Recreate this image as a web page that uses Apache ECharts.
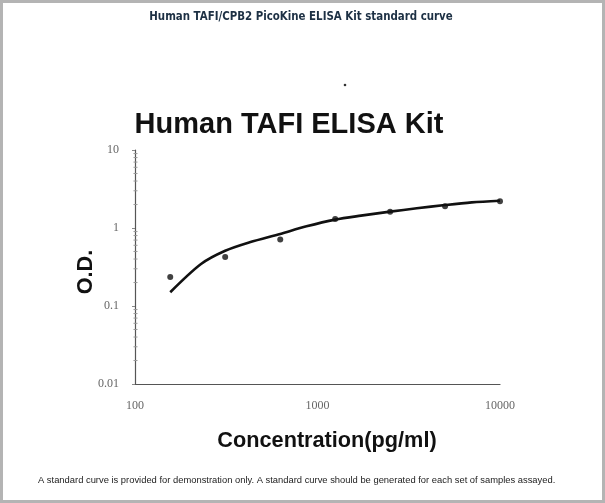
<!DOCTYPE html>
<html>
<head>
<meta charset="utf-8">
<script src="https://cdn.jsdelivr.net/npm/echarts@6/dist/echarts.min.js"></script>
<style>
html,body{margin:0;padding:0;background:#fff;}
#c{width:605px;height:503px;}
</style>
</head>
<body>
<div id="c"></div>
<script>
// Standard points (concentration pg/ml, O.D.)
const concentrations = [156, 312, 625, 1250, 2500, 5000, 10000];
const odValues = [0.235, 0.425, 0.71, 1.30, 1.62, 1.90, 2.20];
// Fitted curve
const curveConc = [156, 230, 312, 425, 625, 870, 1250, 1730, 2500, 3500, 5000, 7000, 10000];
const curveOD = [0.150, 0.345, 0.51, 0.655, 0.84, 1.05, 1.28, 1.44, 1.62, 1.79, 1.97, 2.13, 2.24];
// Y minor tick values (log decades)
const yMinorTicks = [0.02,0.03,0.04,0.05,0.06,0.07,0.08,0.09,0.2,0.3,0.4,0.5,0.6,0.7,0.8,0.9,2,3,4,5,6,7,8,9];
const xTickLabels = ['100', '1000', '10000'];
const yTickLabels = ['0.01', '0.1', '1', '10'];

const chart = echarts.init(document.getElementById('c'), null, {renderer: 'canvas'});

const pointData = concentrations.map((c, i) => [c, odValues[i]]);
const curveData = curveConc.map((c, i) => [c, curveOD[i]]);

const option = {
  animation: false,
  backgroundColor: '#ffffff',
  grid: {left: 135, width: 365, top: 150, height: 234, containLabel: false},
  xAxis: {
    type: 'log', logBase: 10, min: 100, max: 10000,
    name: 'Concentration(pg/ml)', nameLocation: 'middle', nameGap: 46, nameMoveOverlap: false,
    nameTextStyle: {fontFamily: 'Liberation Sans', fontWeight: 'bold', fontSize: 21.7, color: '#111', padding: [0,0,0,19]},
    axisLine: {show: true, lineStyle: {color: '#555', width: 1.2}},
    axisTick: {show: false},
    splitLine: {show: false},
    axisLabel: {
      margin: 16, fontFamily: 'Liberation Serif', fontSize: 12, color: '#666',
      formatter: v => { const s = String(Math.round(v)); return xTickLabels.includes(s) ? s : ''; }
    }
  },
  yAxis: {
    type: 'log', logBase: 10, min: 0.01, max: 10,
    name: 'O.D.', nameLocation: 'middle', nameGap: 38, nameRotate: 90, nameMoveOverlap: false,
    nameTextStyle: {fontFamily: 'Liberation Sans', fontWeight: 'bold', fontSize: 21.7, color: '#111', padding: [0,10,0,0]},
    axisLine: {show: true, lineStyle: {color: '#555', width: 1.2}},
    axisTick: {show: true, length: 3, inside: false, lineStyle: {color: '#888'}},
    splitLine: {show: false},
    axisLabel: {
      margin: 16, fontFamily: 'Liberation Serif', fontSize: 12, color: '#666',
      formatter: v => { const s = String(+v.toPrecision(3)); return yTickLabels.includes(s) ? s : ''; }
    }
  },
  series: [
    {
      type: 'custom',
      data: yMinorTicks.map(v => [100, v]),
      silent: true,
      renderItem: function (params, api) {
        const p = api.coord([api.value(0), api.value(1)]);
        return {type: 'line', shape: {x1: p[0] - 1.5, y1: p[1], x2: p[0] + 2.5, y2: p[1]},
                style: {stroke: '#999', lineWidth: 1}};
      },
      z: 1
    },
    {
      type: 'line', data: curveData, smooth: 0.3, showSymbol: false,
      lineStyle: {color: '#111', width: 2.6}, z: 3
    },
    {
      type: 'scatter', data: pointData, symbol: 'circle', symbolSize: 6,
      itemStyle: {color: '#111'}, z: 4
    }
  ],
  graphic: [
    {type: 'rect', shape: {x: 1.5, y: 1.5, width: 602, height: 500}, style: {fill: null, stroke: '#b4b4b4', lineWidth: 3}, z: 100},
    {type: 'text', x: 301, y: 17, style: {text: 'Human TAFI/CPB2 PicoKine ELISA Kit standard curve', align: 'center', verticalAlign: 'middle', font: 'bold 11.4px "DejaVu Sans Condensed"', fill: '#1d3044'}},
    {type: 'text', x: 289, y: 125, style: {text: 'Human TAFI ELISA Kit', align: 'center', verticalAlign: 'middle', font: 'bold 29px "Liberation Sans"', fill: '#111'}},
    {type: 'circle', shape: {cx: 345, cy: 85, r: 1.3}, style: {fill: '#333'}},
    {type: 'text', x: 38, y: 480, style: {text: 'A standard curve is provided for demonstration only. A standard curve should be generated for each set of samples assayed.', align: 'left', verticalAlign: 'middle', font: '9.4px "Liberation Sans"', fill: '#222'}}
  ]
};
chart.setOption(option);
</script>
</body>
</html>
